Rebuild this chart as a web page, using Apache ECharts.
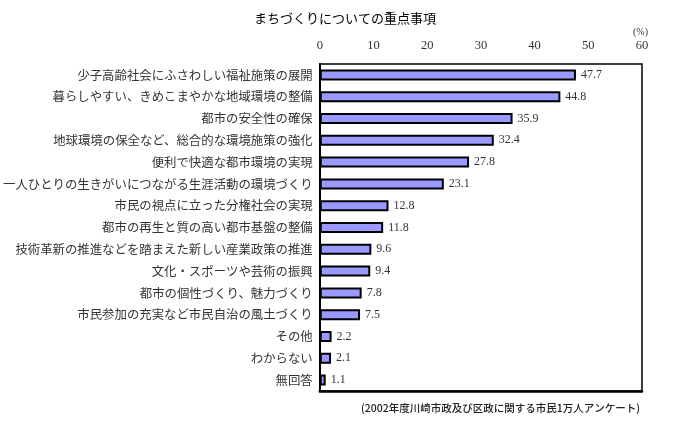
<!DOCTYPE html>
<html>
<head>
<meta charset="utf-8">
<script src="https://cdn.jsdelivr.net/npm/echarts@6/dist/echarts.min.js"></script>
<style>html,body{margin:0;padding:0;background:#fff;}#c{width:676px;height:422px;}</style>
</head>
<body>
<div id="c"></div>
<script>
const categories = [
  '少子高齢社会にふさわしい福祉施策の展開',
  '暮らしやすい、きめこまやかな地域環境の整備',
  '都市の安全性の確保',
  '地球環境の保全など、総合的な環境施策の強化',
  '便利で快適な都市環境の実現',
  '一人ひとりの生きがいにつながる生涯活動の環境づくり',
  '市民の視点に立った分権社会の実現',
  '都市の再生と質の高い都市基盤の整備',
  '技術革新の推進などを踏まえた新しい産業政策の推進',
  '文化・スポーツや芸術の振興',
  '都市の個性づくり、魅力づくり',
  '市民参加の充実など市民自治の風土づくり',
  'その他',
  'わからない',
  '無回答'
];
const values = [47.7, 44.8, 35.9, 32.4, 27.8, 23.1, 12.8, 11.8, 9.6, 9.4, 7.8, 7.5, 2.2, 2.1, 1.1];
const title = 'まちづくりについての重点事項';
const unitLabel = '(%)';
const sourceNote = '(2002年度川崎市政及び区政に関する市民1万人アンケート)';

const chart = echarts.init(document.getElementById('c'), null, {renderer: 'canvas'});
const serifNum = '"Liberation Serif", "DejaVu Serif", serif';
const jp = '"Noto Sans CJK JP", sans-serif';
chart.setOption({
  animation: false,
  backgroundColor: '#fff',
  title: {
    text: title, left: 249, top: 7,
    textStyle: {fontFamily: jp, fontSize: 13, fontWeight: 'normal', color: '#000'}
  },
  grid: {left: 318, right: 34, top: 64, bottom: 31, show: true, borderColor: '#000', borderWidth: 1.5, backgroundColor: 'transparent'},
  xAxis: [{
    type: 'value', position: 'top', min: 0, max: 60, interval: 10,
    axisLine: {show: false}, axisTick: {show: false}, splitLine: {show: false},
    axisLabel: {fontFamily: serifNum, fontSize: 12.5, color: '#333', margin: 12}
  }, {
    type: 'value', position: 'bottom', min: 0, max: 60, interval: 10,
    axisLine: {show: true, lineStyle: {color: '#000', width: 2.5}}, axisTick: {show: false},
    splitLine: {show: false}, axisLabel: {show: false}
  }],
  yAxis: {
    type: 'category', data: categories, inverse: true,
    axisLine: {show: true, lineStyle: {color: '#000', width: 2}}, axisTick: {show: false},
    axisLabel: {fontFamily: jp, fontSize: 12.4, color: '#333', margin: 7}
  },
  series: [{
    type: 'bar', data: values, barWidth: 11, xAxisIndex: 0,
    itemStyle: {color: '#9999ff', borderColor: '#000', borderWidth: 2},
    label: {show: true, position: 'right', distance: 5, fontFamily: serifNum, fontSize: 12, color: '#333',
      formatter: p => p.value.toFixed(1)}
  }],
  graphic: [
    {type: 'text', left: 633, top: 27, style: {text: unitLabel, fontFamily: serifNum, fontSize: 10, fill: '#333'}},
    {type: 'text', right: 36, top: 403, style: {text: sourceNote, fontFamily: jp, fontSize: 10.5, fontWeight: 500, fill: '#222'}}
  ]
});
</script>
</body>
</html>
